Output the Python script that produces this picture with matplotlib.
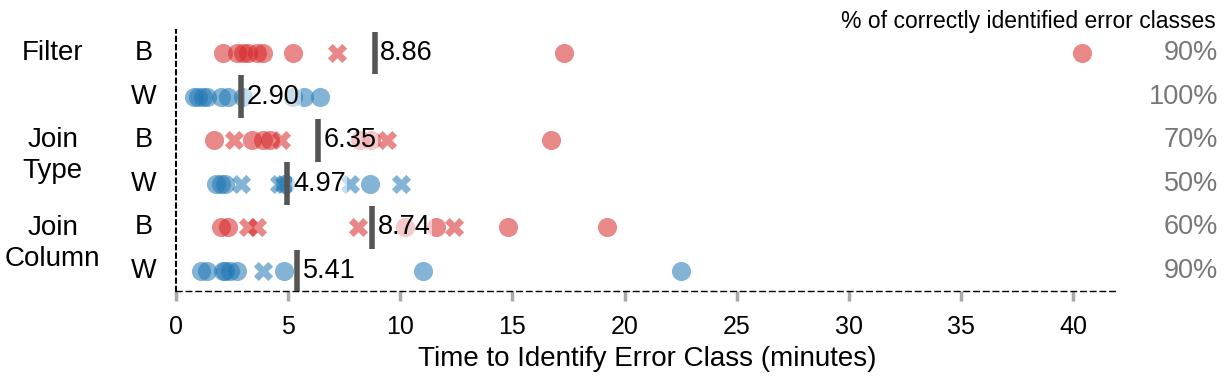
import numpy as np
import matplotlib
matplotlib.use("Agg")
from matplotlib import pyplot as plt
from matplotlib import transforms

plt.rcParams['font.family'] = ['Liberation Sans', 'DejaVu Sans']

# rows top to bottom
groups = ["Filter", "Join\nType", "Join\nColumn"]
row_labels = ["B", "W", "B", "W", "B", "W"]
accuracy = ["90%", "100%", "70%", "50%", "60%", "90%"]
means = [8.86, 2.90, 6.35, 4.97, 8.74, 5.41]

# times in minutes; correct -> circle, wrong -> cross
filter_b_ok = [2.1, 2.7, 3.0, 3.2, 3.6, 3.9, 5.2, 17.3, 40.4]
filter_b_bad = [7.2]
filter_w_ok = [0.8, 1.0, 1.2, 1.4, 2.0, 2.3, 3.0, 5.2, 5.7, 6.4]
filter_w_bad = []
jtype_b_ok = [1.7, 3.4, 3.9, 4.2, 8.2, 8.7, 16.7]
jtype_b_bad = [2.6, 4.7, 9.4]
jtype_w_ok = [1.8, 2.0, 2.2, 4.85, 8.65]
jtype_w_bad = [2.9, 4.6, 4.8, 7.75, 10.05]
jcol_b_ok = [2.0, 2.3, 10.2, 11.6, 14.8, 19.2]
jcol_b_bad = [3.2, 3.6, 8.1, 12.4]
jcol_w_ok = [1.1, 1.4, 2.1, 2.2, 2.4, 2.7, 4.8, 11.0, 22.5]
jcol_w_bad = [3.9]

ok_rows = [filter_b_ok, filter_w_ok, jtype_b_ok, jtype_w_ok, jcol_b_ok, jcol_w_ok]
bad_rows = [filter_b_bad, filter_w_bad, jtype_b_bad, jtype_w_bad, jcol_b_bad, jcol_w_bad]

red = "#d62728"
blue = "#1f77b4"

fig = plt.figure(figsize=(12.28, 3.83), dpi=100)
ax = fig.add_axes([0.1433, 0.2402, 0.9104 - 0.1433, 0.9217 - 0.2402])
ax.set_xlim(0, 42)
ax.set_ylim(5.46, -0.53)

# x in figure fraction, y in data
fig_y = transforms.blended_transform_factory(fig.transFigure, ax.transData)

for i in range(6):
    col = red if i % 2 == 0 else blue
    ok = ok_rows[i]
    bad = bad_rows[i]
    ax.scatter(ok, [i] * len(ok), s=190, color=col, alpha=0.55, linewidths=0, zorder=2)
    if len(bad) > 0:
        ax.scatter(bad, [i] * len(bad), s=190, marker="X", color=col, alpha=0.55, linewidths=0, zorder=2)
    # mean line + label
    ax.plot([means[i], means[i]], [i - 0.49, i + 0.49], color="#555555", lw=4, solid_capstyle="butt", zorder=3)
    ax.annotate("%.2f" % means[i], (means[i], i), xytext=(4, 0), textcoords="offset points",
                ha="left", va="center", fontsize=19.5, zorder=4,
                bbox=dict(boxstyle="square,pad=0.05", fc="white", ec="none", alpha=0.55))
    ax.text(-1.45, i, row_labels[i], ha="center", va="center", fontsize=19.5)
    ax.text(0.992, i, accuracy[i], transform=fig_y, ha="right", va="center",
            fontsize=19.5, color="#777777", clip_on=False)

ax.set_yticks([])
ax.set_xticks(np.arange(0, 41, 5))
ax.tick_params(axis="x", length=7, width=2.5, color="#aaaaaa", labelsize=18, pad=10)
ax.set_xlabel("Time to Identify Error Class (minutes)", fontsize=20, labelpad=5)

for s in ["top", "right"]:
    ax.spines[s].set_visible(False)
ax.spines["left"].set_linestyle((0, (2, 2)))
ax.spines["left"].set_linewidth(1.5)
ax.spines["bottom"].set_linestyle((0, (4, 3)))
ax.spines["bottom"].set_linewidth(1)

# group labels
ax.text(-5.5, 0, groups[0], ha="center", va="center", fontsize=20)
ax.text(-5.5, 2.36, groups[1], ha="center", va="center", fontsize=20, linespacing=1.25)
ax.text(-5.5, 4.36, groups[2], ha="center", va="center", fontsize=20, linespacing=1.25)

fig.text(0.99, 0.945, "% of correctly identified error classes", ha="right", va="center", fontsize=16.5)

fig.savefig("out.png", dpi=100)
